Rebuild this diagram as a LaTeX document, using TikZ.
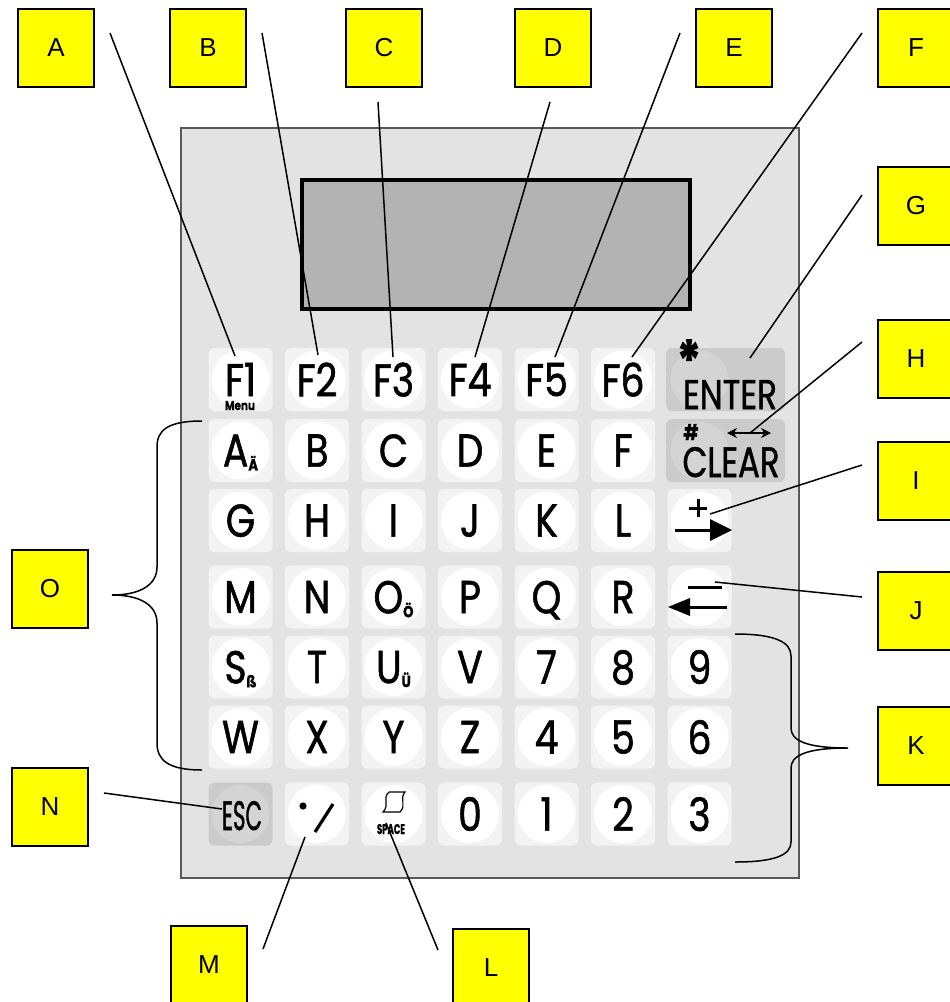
\documentclass[tikz,border=0pt]{standalone}
\usepackage{fontspec}
\usepackage{graphicx}
\setmainfont{Liberation Sans}
\newfontfamily\keyfont[FakeStretch=0.82, FakeBold=1.2]{Poppins}
\usetikzlibrary{arrows.meta}

\definecolor{panelgrey}{HTML}{E3E3E3}
\definecolor{capgrey}{HTML}{F3F3F3}
\definecolor{darkcap}{HTML}{CBCBCB}
\definecolor{darkdisc}{HTML}{D4D4D4}
\definecolor{lcdgrey}{HTML}{B3B3B3}
\definecolor{calloutyellow}{HTML}{FFFF00}

\newcommand\sublet[1]{\raisebox{-2pt}{\fontsize{8}{8}\selectfont\bfseries #1}}

\tikzset{
	callout/.style={draw=black, line width=1pt, fill=calloutyellow, minimum width=38pt, minimum height=39pt, inner sep=0pt, font=\fontsize{13}{15}\selectfont},
	keycap/.style={fill=capgrey, rounded corners=3pt, minimum width=32pt, minimum height=31.5pt, inner sep=0pt},
	darkkey/.style={keycap, fill=darkcap},
	legend/.style={font=\keyfont\fontsize{23}{23}\selectfont, inner sep=0pt, text depth=0pt},
	leader/.style={line width=0.75pt},
	icon/.style={line width=1.5pt},
}

\begin{document}
\begin{tikzpicture}[x=0.5pt, y=-0.5pt]
	\useasboundingbox (0,0) rectangle (949,1002);
	% front panel and display
	\draw[fill=panelgrey, draw=black!65, line width=0.6pt] (181,128) rectangle (799,878);
	\draw[fill=lcdgrey, line width=1.6pt] (302,180) rectangle (690,309);

	% ordinary keys
	\foreach \c/\y/\nm/\txt in {1/379.5/F1/{F1}, 2/379.5/F2/{F2}, 3/379.5/F3/{F3}, 4/379.5/F4/{F4}, 5/379.5/F5/{F5}, 6/379.5/F6/{F6},
		1/450.5/A/{A\sublet{Ä}}, 2/450.5/B/{B}, 3/450.5/C/{C}, 4/450.5/D/{D}, 5/450.5/E/{E}, 6/450.5/F/{F},
		1/520.5/G/{G}, 2/520.5/H/{H}, 3/520.5/I/{I}, 4/520.5/J/{J}, 5/520.5/K/{K}, 6/520.5/L/{L}, 7/520.5/Plus/{},
		1/597/M/{M}, 2/597/N/{N}, 3/597/O/{O\sublet{Ö}}, 4/597/P/{P}, 5/597/Q/{Q}, 6/597/R/{R}, 7/597/Minus/{},
		1/667/S/{S\sublet{ß}}, 2/667/T/{T}, 3/667/U/{U\sublet{Ü}}, 4/667/V/{V}, 5/667/7/{7}, 6/667/8/{8}, 7/667/9/{9},
		1/737/W/{W}, 2/737/X/{X}, 3/737/Y/{Y}, 4/737/Z/{Z}, 5/737/4/{4}, 6/737/5/{5}, 7/737/6/{6},
		2/814/Dot/{}, 3/814/Space/{}, 4/814/0/{0}, 5/814/1/{1}, 6/814/2/{2}, 7/814/3/{3}} {
		\pgfmathsetmacro\kx{240.5+76.5*(\c-1)}
		\node[keycap] (k\nm) at (\kx,\y) {};
		\fill[white] (k\nm.center) circle (14.5pt);
		\node[legend] at (k\nm.center) {\txt};
	}

	% grey keys
	\node[darkkey, minimum width=59.5pt] (kEnter) at (725.5,379.5) {};
	\node[darkkey, minimum width=59.5pt] (kClear) at (725.5,450.5) {};
	\node[darkkey] (kEsc) at (240.5,814) {};
	\fill[darkdisc] (699.5,379.5) circle (14.5pt);
	\fill[darkdisc] (699.5,450.5) circle (14.5pt);
	\fill[darkdisc] (kEsc.center) circle (14.5pt);

	\node[legend, anchor=base] (tEnter) at (730,409) {\resizebox{47pt}{14.5pt}{ENTER}};
	\node[legend, anchor=base] (tStar) at (689,381) {\fontsize{28}{28}\selectfont\bfseries *};
	\node[legend, anchor=base] (tClear) at (731,477) {\resizebox{48.5pt}{15pt}{CLEAR}};
	\node[legend, anchor=base] (tHash) at (691,440) {\resizebox{7.5pt}{8pt}{\bfseries\#}};
	\draw[{Stealth[length=5pt,width=5pt]}-{Stealth[length=5pt,width=5pt]}, line width=1.2pt] (727,433) -- (771,433);
	\node[legend, anchor=base] (tEsc) at (242,830) {\resizebox{20pt}{14.5pt}{ESC}};
	\node[legend, anchor=base] (tMenu) at (240,410) {\resizebox{15pt}{4.5pt}{\bfseries Menu}};
	\node[legend, anchor=base] (tSpace) at (391,834) {\resizebox{14pt}{5pt}{\bfseries SPACE}};

	% key symbols
	\draw[icon] (689,508) -- (707,508) (698,499) -- (698,517);
	\draw[icon] (675,530) -- (712,530);
	\fill (710,519) -- (732,530) -- (710,541) -- cycle;
	\draw[icon] (688,587) -- (722,587);
	\draw[icon] (727,607) -- (688,607);
	\fill (690,598) -- (668,607) -- (690,616) -- cycle;
	\fill (303,806) circle (1.8pt);
	\draw[line width=1.6pt] (333,804) -- (315,832);
	\draw[line width=0.6pt, fill=white] (389,792) -- (405,792) .. controls (399,799) and (407,805) .. (400,812) -- (383,812) .. controls (390,805) and (382,798) .. (389,792);

	% callouts
	\node[callout] (lblA) at (56,48) {A};
	\node[callout] (lblB) at (208,48) {B};
	\node[callout] (lblC) at (384,48) {C};
	\node[callout] (lblD) at (553,48) {D};
	\node[callout] (lblE) at (734,48) {E};
	\node[callout] (lblF) at (916,48) {F};
	\node[callout] (lblG) at (916,206) {G};
	\node[callout] (lblH) at (916,359) {H};
	\node[callout] (lblI) at (916,481) {I};
	\node[callout] (lblJ) at (916,611) {J};
	\node[callout] (lblK) at (916,746) {K};
	\node[callout] (lblL) at (491,968) {L};
	\node[callout] (lblM) at (209,965) {M};
	\node[callout] (lblN) at (50,807) {N};
	\node[callout] (lblO) at (50,589) {O};

	% leader lines
	\foreach \nm/\from/\to in {A/{110,33}/{235,356}, B/{262,33}/{318,355}, C/{378,102}/{393,357},
		D/{550,102}/{475,357}, E/{680,33}/{555,357}, F/{862,33}/{632,357}, G/{862,195}/{750,358},
		H/{862,342}/{750,433}, I/{862,465}/{710,514}, J/{862,597}/{715,582},
		N/{104,793}/{222,809}, M/{263,949}/{305,837}, L/{438,950}/{386,823}} {
		\coordinate (s\nm) at (\from);
		\coordinate (e\nm) at (\to);
		\draw[leader] (s\nm) -- (e\nm);
	}

	% braces
	\coordinate (tipO) at (112,595);
	\coordinate (tipK) at (848,748);
	\draw[leader] (202,421) .. controls (168,421) and (157,430) .. (157,447) -- (157,567)
		.. controls (157,585) and (140,595) .. (tipO) .. controls (140,595) and (157,605) .. (157,623)
		-- (157,743) .. controls (157,760) and (168,770) .. (202,770);
	\draw[leader] (735,634) .. controls (775,634) and (791,642) .. (791,656) -- (791,728)
		.. controls (791,740) and (805,748) .. (tipK) .. controls (805,748) and (791,756) .. (791,768)
		-- (791,842) .. controls (791,855) and (775,862) .. (735,862);
\end{tikzpicture}
\end{document}
